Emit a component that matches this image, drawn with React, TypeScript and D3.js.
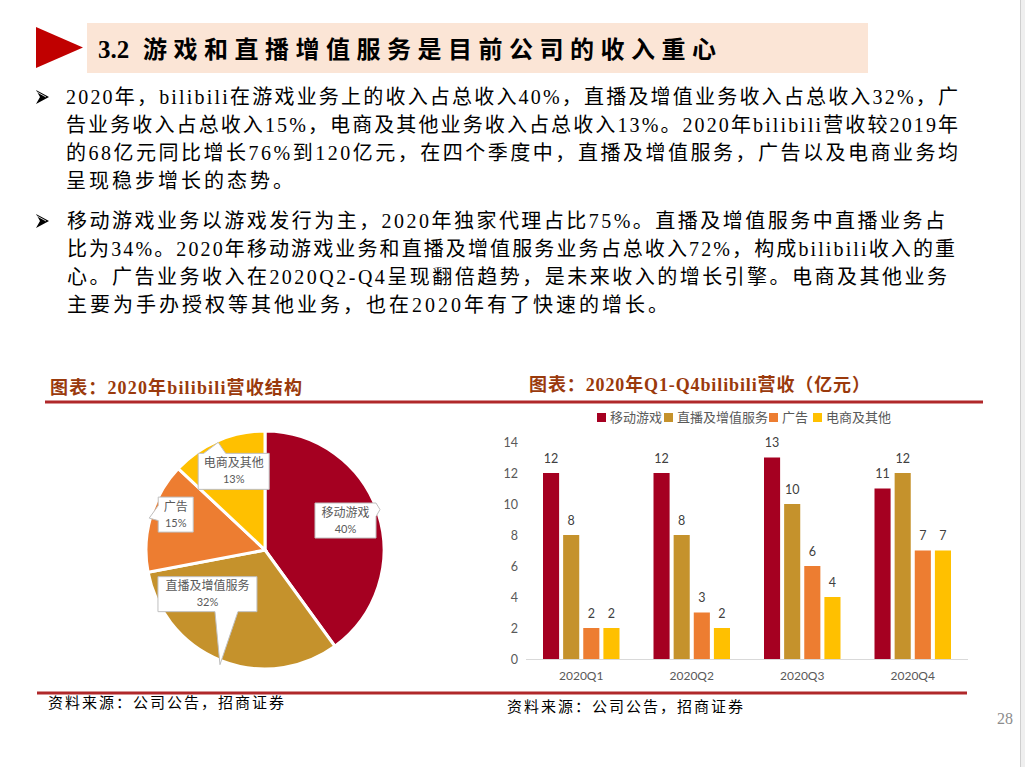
import React from "react";
import * as d3 from "d3";

// ---------- DATA ----------
const pieCategories = ["移动游戏", "直播及增值服务", "广告", "电商及其他"];
const pieShares = [40, 32, 15, 13];

const quarters = ["2020Q1", "2020Q2", "2020Q3", "2020Q4"];
const seriesNames = ["移动游戏", "直播及增值服务", "广告", "电商及其他"];
const mobileGames = [12, 12, 13, 11];
const liveVAS = [8, 8, 10, 12];
const advertising = [2, 3, 6, 7];
const ecommerce = [2, 2, 4, 7];
const yTicks = [0, 2, 4, 6, 8, 10, 12, 14];

const titleNumber = "3.2";
const titleText = "游戏和直播增值服务是目前公司的收入重心";
const para1 = [
  "2020年，bilibili在游戏业务上的收入占总收入40%，直播及增值业务收入占总收入32%，广",
  "告业务收入占总收入15%，电商及其他业务收入占总收入13%。2020年bilibili营收较2019年",
  "的68亿元同比增长76%到120亿元，在四个季度中，直播及增值服务，广告以及电商业务均",
  "呈现稳步增长的态势。",
];
const para2 = [
  "移动游戏业务以游戏发行为主，2020年独家代理占比75%。直播及增值服务中直播业务占",
  "比为34%。2020年移动游戏业务和直播及增值服务业务占总收入72%，构成bilibili收入的重",
  "心。广告业务收入在2020Q2-Q4呈现翻倍趋势，是未来收入的增长引擎。电商及其他业务",
  "主要为手办授权等其他业务，也在2020年有了快速的增长。",
];
const pieTitle = "图表：2020年bilibili营收结构";
const barTitle = "图表：2020年Q1-Q4bilibili营收（亿元）";
const sourceText = "资料来源：公司公告，招商证券";

// ---------- STYLE / LAYOUT ----------
const colors = ["#A50021", "#C5922C", "#ED7D31", "#FFC000"];
const BODY_FONT = "'Liberation Serif', 'Noto Sans CJK SC', serif";
const CHART_FONT = "Lato, 'Noto Sans CJK SC', sans-serif";
const para1Widths = [892, 892, 892, 0];
const para2Widths = [878, 888, 880, 0];

// callout layout: radius fraction, offset, box size, pointer spec relative to box center
const calloutLayout = [
  { k: 0.72, dx: -1, dy: -3, w: 61, h: 35, side: "right", a: -17.5, b: -4, tx: 34.5, ty: -11 },
  { k: 0.72, dx: -26, dy: -35.5, w: 99, h: 35, side: "bottom", a: 7.5, b: 30.5, tx: 12.5, ty: 70.5 },
  { k: 0.72, dx: -7, dy: -11.5, w: 35, h: 35, side: "left", a: -9, b: 6, tx: -26.5, ty: 3.5 },
  { k: 0.72, dx: 2.7, dy: 0, w: 71, h: 36, side: "top", a: -30, b: -8, tx: -15.5, ty: -29 },
];

function calloutPath(cx: number, cy: number, L: any) {
  const x0 = cx - L.w / 2, x1 = cx + L.w / 2, y0 = cy - L.h / 2, y1 = cy + L.h / 2;
  const tx = cx + L.tx, ty = cy + L.ty;
  const p = d3.path();
  p.moveTo(x0, y0);
  if (L.side === "top") {
    p.lineTo(cx + L.a, y0); p.lineTo(tx, ty); p.lineTo(cx + L.b, y0);
  }
  p.lineTo(x1, y0);
  if (L.side === "right") {
    p.lineTo(x1, cy + L.a); p.lineTo(tx, ty); p.lineTo(x1, cy + L.b);
  }
  p.lineTo(x1, y1);
  if (L.side === "bottom") {
    p.lineTo(cx + L.b, y1); p.lineTo(tx, ty); p.lineTo(cx + L.a, y1);
  }
  p.lineTo(x0, y1);
  if (L.side === "left") {
    p.lineTo(x0, cy + L.b); p.lineTo(tx, ty); p.lineTo(x0, cy + L.a);
  }
  p.closePath();
  return p.toString();
}

function Bullet({ cy }: { cy: number }) {
  return (
    <g>
      <path d={`M36,${cy - 7} L49,${cy} L36,${cy + 7} L40,${cy} Z`} fill="#000" />
      <path d={`M37,${cy - 5} L46,${cy} `} stroke="#fff" strokeWidth={0.8} fill="none" />
    </g>
  );
}

export default function App() {
  // ----- pie -----
  const pcx = 265, pcy = 550, pr = 119;
  const pie = d3.pie<number>().sort(null).value((d) => d).startAngle(0).endAngle(2 * Math.PI);
  const slices = pie(pieShares);
  const arc = d3.arc<d3.PieArcDatum<number>>().innerRadius(0).outerRadius(pr);

  // ----- bars -----
  const x0 = d3.scaleBand<string>().domain(quarters).range([526, 968]).padding(0);
  const bw = x0.bandwidth();
  const inner = 76.5;
  const x1 = d3
    .scaleBand<string>()
    .domain(seriesNames)
    .range([(bw - inner) / 2, (bw + inner) / 2])
    .paddingInner(0.2);
  const y = d3.scaleLinear().domain([0, 14]).range([659, 442]);
  const seriesValues = [mobileGames, liveVAS, advertising, ecommerce];
  const legendX = [597, 664, 769, 813];

  return (
    <svg
      width={1025}
      height={767}
      style={{ position: "absolute", left: 0, top: 0, background: "#fff" }}
      xmlns="http://www.w3.org/2000/svg"
    >
      <rect x={0} y={0} width={1025} height={767} fill="#fff" />
      {/* right page edge */}
      <rect x={1021} y={0} width={4} height={767} fill="#EFEFEF" />
      <line x1={1020.5} x2={1020.5} y1={0} y2={767} stroke="#CFCFCF" strokeWidth={1} />

      {/* header */}
      <path d="M36,27 L83,47.5 L36,68 Z" fill="#C00000" />
      <rect x={87} y={23} width={781} height={50} fill="#FBE5D6" />
      <text x={98} y={58} fontFamily={BODY_FONT} fontWeight="bold" fontSize={25} fill="#000">
        {titleNumber}
      </text>
      <text
        x={143}
        y={58}
        fontFamily={BODY_FONT}
        fontWeight="bold"
        fontSize={24}
        fill="#000"
        textLength={573}
        lengthAdjust="spacing"
      >
        {titleText}
      </text>

      {/* paragraphs */}
      <Bullet cy={97} />
      <Bullet cy={221} />
      <g fontFamily={BODY_FONT} fontSize={20} fill="#000">
        {para1.map((t, i) => (
          <text
            key={"p1" + i}
            x={66}
            y={104 + i * 28}
            {...(para1Widths[i] ? { textLength: para1Widths[i], lengthAdjust: "spacing" } : { letterSpacing: 3 })}
          >
            {t}
          </text>
        ))}
        {para2.map((t, i) => (
          <text
            key={"p2" + i}
            x={67}
            y={228 + i * 28}
            {...(para2Widths[i] ? { textLength: para2Widths[i], lengthAdjust: "spacing" } : { letterSpacing: 3 })}
          >
            {t}
          </text>
        ))}
      </g>

      {/* chart titles */}
      <g fontFamily={BODY_FONT} fontWeight="bold" fontSize={18} fill="#9A3A0C">
        <text x={50} y={394} textLength={252} lengthAdjust="spacing">{pieTitle}</text>
        <text x={529} y={391} textLength={341} lengthAdjust="spacing">{barTitle}</text>
      </g>
      <line x1={45} x2={983} y1={402} y2={402} stroke="#B0282A" strokeWidth={3} />
      <line x1={37} x2={967} y1={693} y2={693} stroke="#B0282A" strokeWidth={3} />

      {/* pie */}
      <g transform={`translate(${pcx},${pcy})`}>
        {slices.map((s, i) => (
          <path key={i} d={arc(s) || ""} fill={colors[i]} stroke="#fff" strokeWidth={3} strokeLinejoin="miter" />
        ))}
      </g>
      <g fontFamily={CHART_FONT} fontSize={12} fill="#595959">
        {slices.map((s, i) => {
          const L = calloutLayout[i];
          const c = d3.arc<d3.PieArcDatum<number>>().innerRadius(pr * L.k).outerRadius(pr * L.k).centroid(s);
          const cx = pcx + c[0] + L.dx;
          const cy = pcy + c[1] + L.dy;
          return (
            <g key={i}>
              <path d={calloutPath(cx, cy, L)} fill="#fff" stroke="#BFBFBF" strokeWidth={1} />
              <text x={cx} y={cy - 4} textAnchor="middle">{pieCategories[i]}</text>
              <text x={cx} y={cy + 12} textAnchor="middle" fontSize={11}>{s.data}%</text>
            </g>
          );
        })}
      </g>

      {/* bar chart */}
      <g fontFamily={CHART_FONT} fill="#595959">
        {/* legend */}
        {seriesNames.map((n, i) => (
          <g key={n}>
            <rect x={legendX[i]} y={413} width={9} height={9} fill={colors[i]} />
            <text x={legendX[i] + 13} y={422} fontSize={13}>{n}</text>
          </g>
        ))}
        {/* y ticks */}
        {yTicks.map((t) => (
          <text key={t} x={518} y={y(t) + 4.5} textAnchor="end" fontSize={12.5}>{t}</text>
        ))}
        {/* bars */}
        {quarters.map((q, qi) => (
          <g key={q} transform={`translate(${x0(q)},0)`}>
            {seriesNames.map((n, si) => {
              const v = seriesValues[si][qi];
              const bx = x1(n) as number;
              return (
                <g key={n}>
                  <rect x={bx} y={y(v)} width={x1.bandwidth()} height={y(0) - y(v)} fill={colors[si]} />
                  <text x={bx + x1.bandwidth() / 2} y={y(v) - 10.5} textAnchor="middle" fontSize={12.5} fill="#404040">
                    {v}
                  </text>
                </g>
              );
            })}
            <text x={bw / 2} y={680} textAnchor="middle" fontSize={12}>{q}</text>
          </g>
        ))}
        <line x1={526} x2={968} y1={659.5} y2={659.5} stroke="#D9D9D9" strokeWidth={1} />
      </g>

      {/* sources */}
      <g fontFamily="'Noto Sans CJK SC', sans-serif" fontSize={15} fill="#000" letterSpacing={2}>
        <text x={48} y={708}>{sourceText}</text>
        <text x={507} y={712}>{sourceText}</text>
      </g>
      <text x={997} y={724} fontFamily="'Liberation Serif', serif" fontSize={16} fill="#8C8C8C">28</text>
    </svg>
  );
}
